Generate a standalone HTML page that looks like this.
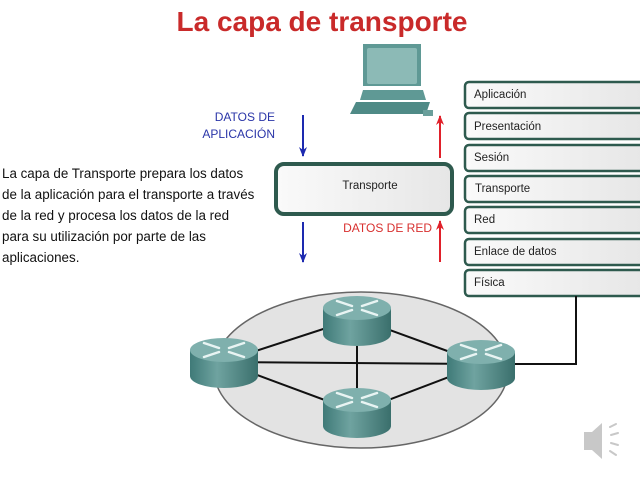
<!DOCTYPE html>
<html><head><meta charset="utf-8"><style>
html,body{margin:0;padding:0;background:#fff;width:640px;height:480px;overflow:hidden}
svg text{font-family:"Liberation Sans",Arial,sans-serif}
</style></head><body>
<svg width="640" height="480" viewBox="0 0 640 480" xmlns="http://www.w3.org/2000/svg">
<defs>
<linearGradient id="box" x1="0" y1="0" x2="1" y2="0">
<stop offset="0" stop-color="#fafafa"/><stop offset="1" stop-color="#e6e6e6"/></linearGradient>
<linearGradient id="cyl" x1="0" y1="0" x2="1" y2="0">
<stop offset="0" stop-color="#3f7a78"/><stop offset="0.4" stop-color="#6fa3a0"/><stop offset="1" stop-color="#3a6f6c"/></linearGradient>
<marker id="ab" markerWidth="10" markerHeight="8" refX="9" refY="4" orient="auto" markerUnits="userSpaceOnUse"><path d="M0,0 L10,4 L0,8 L3,4z" fill="#1d2ab0"/></marker>
<marker id="ar" markerWidth="10" markerHeight="8" refX="9" refY="4" orient="auto" markerUnits="userSpaceOnUse"><path d="M0,0 L10,4 L0,8 L3,4z" fill="#e0202a"/></marker>
<g id="router">
<path d="M-34,-10 L-34,16 A34,12 0 0 0 34,16 L34,-10z" fill="url(#cyl)"/>
<ellipse cx="0" cy="-10" rx="34" ry="12" fill="#7fb0ad"/>
<g stroke="#e8f4f3" stroke-width="2.5" stroke-linecap="round">
<path d="M-20,-17 L-5,-12 M20,-3 L5,-8 M-20,-3 L-5,-8 M20,-17 L5,-12"/></g>
</g>
</defs>
<text x="322" y="31" font-size="28" font-weight="bold" fill="#c92a2a" text-anchor="middle" font-family="Liberation Sans">La capa de transporte</text>

<!-- computer -->
<g>
<path d="M363,44 L421,44 L421,86 L363,86z" fill="#5f9995"/>
<rect x="367" y="48" width="50" height="36" rx="2" fill="#8cbab6"/>
<path d="M363,90 L423,90 L426,100 L360,100z" fill="#5f9995"/>
<path d="M356,102 L430,102 L426,114 L350,114z" fill="#4f8a86"/>
<rect x="423" y="110" width="10" height="6" fill="#6a9f9b"/>
</g>

<!-- labels -->
<text x="275" y="121" font-size="12" fill="#2a35a8" text-anchor="end">DATOS DE</text>
<text x="275" y="138" font-size="12" fill="#2a35a8" text-anchor="end">APLICACIÓN</text>
<line x1="303" y1="115" x2="303" y2="156" stroke="#1d2ab0" stroke-width="2" marker-end="url(#ab)"/>
<line x1="303" y1="222" x2="303" y2="262" stroke="#1d2ab0" stroke-width="2" marker-end="url(#ab)"/>
<line x1="440" y1="158" x2="440" y2="116" stroke="#e0202a" stroke-width="2" marker-end="url(#ar)"/>
<line x1="440" y1="262" x2="440" y2="221" stroke="#e0202a" stroke-width="2" marker-end="url(#ar)"/>
<text x="432" y="232" font-size="12" fill="#d8302f" text-anchor="end">DATOS DE RED</text>

<!-- transport box -->
<rect x="276" y="164" width="176" height="50" rx="8" fill="url(#box)" stroke="#2e5a4e" stroke-width="4"/>
<text x="370" y="189" font-size="11.5" fill="#222" text-anchor="middle">Transporte</text>

<!-- body text -->
<g font-size="13.4" fill="#111">
<text x="2" y="178">La capa de Transporte prepara los datos</text>
<text x="2" y="199">de la aplicación para el transporte a través</text>
<text x="2" y="220">de la red y procesa los datos de la red</text>
<text x="2" y="241">para su utilización por parte de las</text>
<text x="2" y="262">aplicaciones.</text>
</g>

<!-- layers -->
<g stroke="#2e5a4e" stroke-width="2.5" fill="url(#box)">
<rect x="465" y="82" width="185" height="26" rx="4"/>
<rect x="465" y="113" width="185" height="26" rx="4"/>
<rect x="465" y="145" width="185" height="26" rx="4"/>
<rect x="465" y="176" width="185" height="26" rx="4"/>
<rect x="465" y="207" width="185" height="26" rx="4"/>
<rect x="465" y="239" width="185" height="26" rx="4"/>
<rect x="465" y="270" width="185" height="26" rx="4"/>
</g>
<g font-size="11.5" fill="#222">
<text x="474" y="98">Aplicación</text>
<text x="474" y="130">Presentación</text>
<text x="474" y="161">Sesión</text>
<text x="475" y="192">Transporte</text>
<text x="474" y="223">Red</text>
<text x="474" y="255">Enlace de datos</text>
<text x="474" y="286">Física</text>
</g>

<!-- network -->
<ellipse cx="361" cy="370" rx="147" ry="78" fill="#e3e3e3" stroke="#666" stroke-width="1.5"/>
<g stroke="#111" stroke-width="2" fill="none">
<line x1="357" y1="318" x2="222" y2="362"/>
<line x1="357" y1="318" x2="483" y2="364"/>
<line x1="357" y1="318" x2="357" y2="412"/>
<line x1="222" y1="362" x2="483" y2="364"/>
<line x1="222" y1="362" x2="357" y2="412"/>
<line x1="483" y1="364" x2="357" y2="412"/>
<polyline points="483,364 576,364 576,296"/>
</g>
<use href="#router" x="357" y="318"/>
<use href="#router" x="224" y="360"/>
<use href="#router" x="481" y="362"/>
<use href="#router" x="357" y="410"/>

<!-- speaker -->
<g fill="#c8c8c8">
<path d="M584,432 L592,432 L602,423 L602,459 L592,450 L584,450z"/>
</g>
<g stroke="#c8c8c8" stroke-width="2" stroke-linecap="round">
<line x1="610" y1="427" x2="616" y2="424"/><line x1="611" y1="435" x2="618" y2="433"/>
<line x1="611" y1="443" x2="618" y2="445"/><line x1="610" y1="451" x2="616" y2="455"/>
</g>
</svg>
</body></html>
